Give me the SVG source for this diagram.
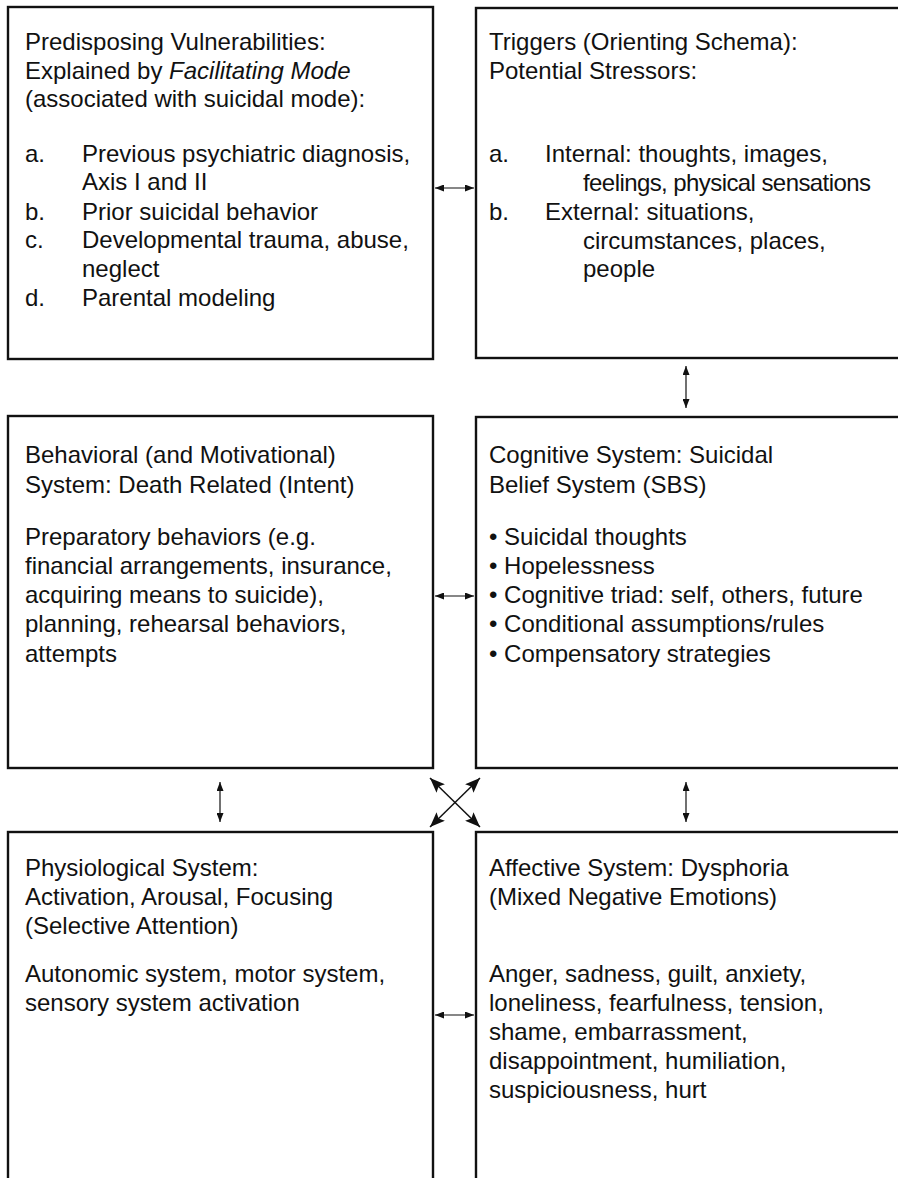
<svg xmlns="http://www.w3.org/2000/svg" width="898" height="1178" viewBox="0 0 898 1178">
  <defs>
    <style>
      .box { fill: #fff; stroke: #111; stroke-width: 2.4; }
      .t { font-family: "Liberation Sans", Arial, sans-serif; font-size: 24px; fill: #111; }
      .link { stroke: #111; stroke-width: 1.2; fill: none; marker-start: url(#tip); marker-end: url(#tip); }
      .cross { stroke: #111; stroke-width: 1.5; fill: none; marker-start: url(#bigtip); marker-end: url(#bigtip); }
    </style>
    <marker id="tip" viewBox="0 0 9 7" refX="9" refY="3.5" markerWidth="9" markerHeight="7" markerUnits="userSpaceOnUse" orient="auto-start-reverse">
      <path d="M0,0 L9,3.5 L0,7 z" fill="#111"/>
    </marker>
    <marker id="bigtip" viewBox="0 0 15 12" refX="15" refY="6" markerWidth="15" markerHeight="12" markerUnits="userSpaceOnUse" orient="auto-start-reverse">
      <path d="M0,0 L15,6 L0,12 L3,6 z" fill="#111"/>
    </marker>
  </defs>

  <rect width="898" height="1178" fill="#fff"/>

  <!-- connectors -->
  <g id="connectors">
    <line class="link" x1="435" y1="188" x2="474" y2="188"/>
    <line class="link" x1="686" y1="366" x2="686" y2="408"/>
    <line class="link" x1="435" y1="596" x2="474" y2="596"/>
    <line class="link" x1="220" y1="782" x2="220" y2="822"/>
    <line class="link" x1="686" y1="782" x2="686" y2="822"/>
    <line class="cross" x1="430" y1="778" x2="480" y2="827"/>
    <line class="cross" x1="480" y1="778" x2="430" y2="827"/>
    <line class="link" x1="435" y1="1015" x2="474" y2="1015"/>
  </g>

  <!-- predisposing vulnerabilities -->
  <g id="vulnerabilities">
    <rect class="box" x="8" y="7" width="425" height="352"/>
    <text class="t" x="25" y="50">Predisposing Vulnerabilities:</text>
    <text class="t" x="25" y="79">Explained by <tspan font-style="italic">Facilitating Mode</tspan></text>
    <text class="t" x="25" y="107">(associated with suicidal mode):</text>
    <text class="t" x="25" y="162">a.</text>
    <text class="t" x="82" y="162">Previous psychiatric diagnosis,</text>
    <text class="t" x="82" y="190">Axis I and II</text>
    <text class="t" x="25" y="220">b.</text>
    <text class="t" x="82" y="220">Prior suicidal behavior</text>
    <text class="t" x="25" y="248">c.</text>
    <text class="t" x="82" y="248">Developmental trauma, abuse,</text>
    <text class="t" x="82" y="277">neglect</text>
    <text class="t" x="25" y="306">d.</text>
    <text class="t" x="82" y="306">Parental modeling</text>
  </g>

  <!-- triggers -->
  <g id="triggers">
    <rect class="box" x="476" y="8" width="430" height="350"/>
    <text class="t" x="489" y="50">Triggers (Orienting Schema):</text>
    <text class="t" x="489" y="79">Potential Stressors:</text>
    <text class="t" x="489" y="162">a.</text>
    <text class="t" x="545" y="162">Internal: thoughts, images,</text>
    <text class="t" x="583" y="191" textLength="288" lengthAdjust="spacing">feelings, physical sensations</text>
    <text class="t" x="489" y="220">b.</text>
    <text class="t" x="545" y="220">External: situations,</text>
    <text class="t" x="583" y="249">circumstances, places,</text>
    <text class="t" x="583" y="277">people</text>
  </g>

  <!-- behavioral system -->
  <g id="behavioral">
    <rect class="box" x="8" y="416" width="425" height="352"/>
    <text class="t" x="25" y="463">Behavioral (and Motivational)</text>
    <text class="t" x="25" y="493">System: Death Related (Intent)</text>
    <text class="t" x="25" y="545">Preparatory behaviors (e.g.</text>
    <text class="t" x="25" y="574">financial arrangements, insurance,</text>
    <text class="t" x="25" y="603">acquiring means to suicide),</text>
    <text class="t" x="25" y="632">planning, rehearsal behaviors,</text>
    <text class="t" x="25" y="662">attempts</text>
  </g>

  <!-- cognitive system -->
  <g id="cognitive">
    <rect class="box" x="476" y="417" width="430" height="351"/>
    <text class="t" x="489" y="463">Cognitive System: Suicidal</text>
    <text class="t" x="489" y="493">Belief System (SBS)</text>
    <text class="t" x="489" y="545">• Suicidal thoughts</text>
    <text class="t" x="489" y="574">• Hopelessness</text>
    <text class="t" x="489" y="603">• Cognitive triad: self, others, future</text>
    <text class="t" x="489" y="632">• Conditional assumptions/rules</text>
    <text class="t" x="489" y="662">• Compensatory strategies</text>
  </g>

  <!-- physiological system -->
  <g id="physiological">
    <rect class="box" x="8" y="832" width="425" height="380"/>
    <text class="t" x="25" y="876">Physiological System:</text>
    <text class="t" x="25" y="905">Activation, Arousal, Focusing</text>
    <text class="t" x="25" y="934">(Selective Attention)</text>
    <text class="t" x="25" y="982">Autonomic system, motor system,</text>
    <text class="t" x="25" y="1011">sensory system activation</text>
  </g>

  <!-- affective system -->
  <g id="affective">
    <rect class="box" x="476" y="832" width="430" height="380"/>
    <text class="t" x="489" y="876">Affective System: Dysphoria</text>
    <text class="t" x="489" y="905">(Mixed Negative Emotions)</text>
    <text class="t" x="489" y="982">Anger, sadness, guilt, anxiety,</text>
    <text class="t" x="489" y="1011">loneliness, fearfulness, tension,</text>
    <text class="t" x="489" y="1040">shame, embarrassment,</text>
    <text class="t" x="489" y="1069">disappointment, humiliation,</text>
    <text class="t" x="489" y="1098">suspiciousness, hurt</text>
  </g>
</svg>
